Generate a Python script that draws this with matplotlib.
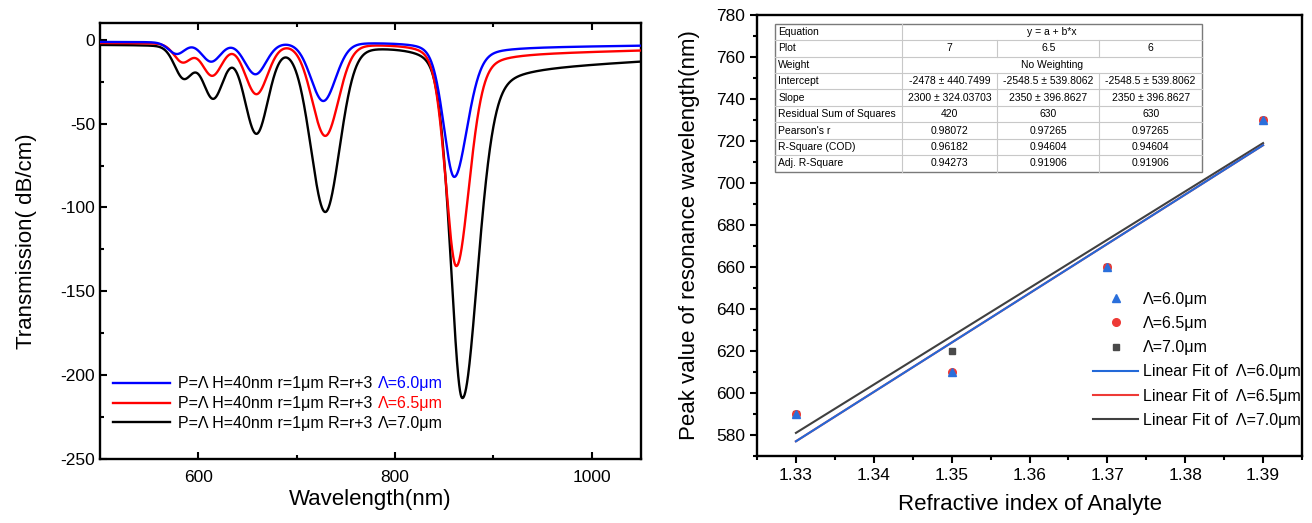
import numpy as np
import matplotlib
matplotlib.use("Agg")
import matplotlib.pyplot as plt
from matplotlib.lines import Line2D

plt.rcParams['font.family'] = ['Liberation Sans', 'DejaVu Sans', 'Noto Sans CJK SC']
plt.rcParams['axes.unicode_minus'] = False

# ---------------- Left panel data (transmission dips) ----------------
wl_min, wl_max = 500, 1050
series_names = ["Λ=6.0μm", "Λ=6.5μm", "Λ=7.0μm"]
series_colors = ["#0000ff", "#ff0000", "#000000"]
legend_prefix = "P=Λ H=40nm r=1μm R=r+3"

baseline = [-1.2, -1.8, -2.8]
dip_center_60 = [578, 613, 658, 727, 860]
dip_depth_60 = [7, 11.5, 19, 35, 79]
dip_hwhm_60 = [10, 11.5, 13, 15, 13]

dip_center_65 = [584, 614, 659, 729, 862]
dip_depth_65 = [11, 19, 30, 55, 130]
dip_hwhm_65 = [10.5, 12, 13.5, 16, 13]

dip_center_70 = [585, 615, 659, 729, 868]
dip_depth_70 = [19, 31, 52, 99, 204]
dip_hwhm_70 = [11, 12.5, 14, 17.5, 14]

big_dip_right_hwhm = [16, 16, 19]
small_lorentz_frac = 0.12
big_lorentz_frac = 0.3
tail_amp = [3.0, 6.0, 13.0]

# ---------------- Right panel data ----------------
ri = [1.33, 1.35, 1.37, 1.39]
peak_60 = [590, 610, 660, 730]
peak_65 = [590, 610, 660, 730]
peak_70 = [590, 620, 660, 730]

table_rows = ["Equation", "Plot", "Weight", "Intercept", "Slope",
              "Residual Sum of Squares", "Pearson's r", "R-Square (COD)", "Adj. R-Square"]
table_equation = "y = a + b*x"
table_plot = ["7", "6.5", "6"]
table_weight = "No Weighting"
table_intercept = ["-2478 ± 440.7499", "-2548.5 ± 539.8062", "-2548.5 ± 539.8062"]
table_slope = ["2300 ± 324.03703", "2350 ± 396.8627", "2350 ± 396.8627"]
table_rss = ["420", "630", "630"]
table_pearson = ["0.98072", "0.97265", "0.97265"]
table_r2 = ["0.96182", "0.94604", "0.94604"]
table_adj = ["0.94273", "0.91906", "0.91906"]

# ---------------- Figure ----------------
fig = plt.figure(figsize=(13.12, 5.23), dpi=100)
ax1 = fig.add_axes([100/1312, (523-459)/523, 541/1312, 436/523])
ax2 = fig.add_axes([757/1312, (523-456)/523, 545/1312, 441/523])

wl = np.linspace(wl_min, wl_max, 4000)

def profile(d, h, eta):
    g = np.exp(-np.log(2) * (d / h)**2)
    lz = 1.0 / (1.0 + (d / h)**2)
    return (1 - eta) * g + eta * lz

def spectrum(base, centers, depths, hwhm, right_hwhm, tail):
    t = np.full_like(wl, base)
    n = len(centers)
    for k, (c, dp, h) in enumerate(zip(centers, depths, hwhm)):
        d = wl - c
        if k == n - 1:
            hh = np.where(d > 0, right_hwhm, h)
            t -= dp * profile(d, hh, big_lorentz_frac)
        else:
            t -= dp * profile(d, h, small_lorentz_frac)
    cbig = centers[-1]
    step = 1.0 / (1.0 + np.exp(-(wl - cbig) / 7.0))
    t -= tail * step / (1 + ((wl - cbig) / 300.0)**2)
    return t

params = [(dip_center_60, dip_depth_60, dip_hwhm_60),
          (dip_center_65, dip_depth_65, dip_hwhm_65),
          (dip_center_70, dip_depth_70, dip_hwhm_70)]
handles = {}
for i in [2, 1, 0]:
    c, d, w = params[i]
    y = spectrum(baseline[i], c, d, w, big_dip_right_hwhm[i], tail_amp[i])
    ln, = ax1.plot(wl, y, color=series_colors[i], lw=1.7, zorder=3 + (2 - i))
    handles[i] = ln
ax1.set_xlim(wl_min, wl_max)
ax1.set_ylim(-250, 10)
ax1.set_xticks([600, 800, 1000])
ax1.set_xticks([700, 900], minor=True)
ax1.set_yticks([0, -50, -100, -150, -200, -250])
ax1.set_yticks([-25, -75, -125, -175, -225], minor=True)
ax1.tick_params(direction='in', which='both', top=True, right=False, labelsize=12.5,
                width=1.5, length=5)
ax1.tick_params(axis='x', pad=8)
ax1.tick_params(which='minor', length=3)
for s in ax1.spines.values():
    s.set_linewidth(1.7)
ax1.set_xlabel("Wavelength(nm)", fontsize=16, labelpad=3)
ax1.set_ylabel("Transmission( dB/cm)", fontsize=16, labelpad=17)

leg1 = ax1.legend([handles[0], handles[1], handles[2]], [legend_prefix] * 3, loc='lower left',
                  bbox_to_anchor=(0.0, 0.035), frameon=False, fontsize=11.5,
                  handlelength=3.6, handletextpad=0.5, labelspacing=0.3, borderpad=0.3)

# ---------------- Right panel ----------------
fit_colors = ["#2369d8", "#ee3a36", "#404040"]
mk_colors = ["#2a6fdb", "#ee3a36", "#4a4a4a"]
xs = np.array(ri)
xfit = np.linspace(ri[0], ri[-1], 50)
fits = []
for p in [peak_60, peak_65, peak_70]:
    b, a = np.polyfit(xs, np.array(p), 1)
    fits.append(a + b * xfit)

h_fit70, = ax2.plot(xfit, fits[2], color=fit_colors[2], lw=1.5, zorder=2)
h_fit65, = ax2.plot(xfit, fits[1], color=fit_colors[1], lw=1.5, zorder=2)
h_fit60, = ax2.plot(xfit, fits[0], color=fit_colors[0], lw=1.5, zorder=3)
h70, = ax2.plot(ri, peak_70, 's', color=mk_colors[2], ms=5, ls='none', zorder=4)
h65, = ax2.plot(ri, peak_65, 'o', color=mk_colors[1], ms=5.5, ls='none', zorder=4)
h60, = ax2.plot(ri, peak_60, '^', color=mk_colors[0], ms=6, ls='none', zorder=5)

ax2.set_xlim(1.325, 1.395)
ax2.set_ylim(570, 780)
xt = [1.33, 1.34, 1.35, 1.36, 1.37, 1.38, 1.39]
ax2.set_xticks(xt)
ax2.set_xticklabels(["1.33", "1.34", "1.35", "1.36", "1.37", "1.38", "1.39"])
ax2.set_xticks(np.arange(1.325, 1.3951, 0.005), minor=True)
ax2.set_yticks(np.arange(580, 781, 20))
ax2.set_yticks(np.arange(570, 781, 10), minor=True)
ax2.tick_params(direction='out', which='both', labelsize=12.5, width=1.5, length=5)
ax2.tick_params(which='minor', length=3)
for s in ax2.spines.values():
    s.set_linewidth(1.7)
ax2.set_xlabel("Refractive index of Analyte", fontsize=16, labelpad=8)
ax2.set_ylabel("Peak value of resonance wavelength(nm)", fontsize=16, labelpad=12)

ax2.legend([h60, h65, h70, h_fit60, h_fit65, h_fit70],
           ["Λ=6.0μm", "Λ=6.5μm", "Λ=7.0μm",
            "Linear Fit of  Λ=6.0μm", "Linear Fit of  Λ=6.5μm", "Linear Fit of  Λ=7.0μm"],
           loc='lower right', bbox_to_anchor=(1.0, 0.06), frameon=False, fontsize=11.5,
           handlelength=2.8, handletextpad=0.3, labelspacing=0.58, borderpad=0.1,
           borderaxespad=0.0)

# ---------------- Fit table ----------------
tl, tr, tt, tb = 0.033, 0.8165, 0.98, 0.645
col_edges = [tl, 0.2665, 0.4407, 0.628, tr]
nrows = len(table_rows)
rh = (tt - tb) / nrows
trf = ax2.transAxes
ax2.add_patch(plt.Rectangle((tl, tb), tr - tl, tt - tb, transform=trf, facecolor='white',
                            edgecolor='#7a7a7a', lw=1.0, zorder=6))
for r in range(1, nrows):
    y = tt - r * rh
    ax2.add_line(Line2D([tl, tr], [y, y], transform=trf, color='#c8c8c8', lw=0.8, zorder=7))
ax2.add_line(Line2D([col_edges[1]] * 2, [tb, tt], transform=trf, color='#c8c8c8', lw=0.8, zorder=7))
merged_rows = [0, 2]
for r in range(nrows):
    if r in merged_rows:
        continue
    for ce in col_edges[2:4]:
        ax2.add_line(Line2D([ce, ce], [tt - (r + 1) * rh, tt - r * rh], transform=trf,
                            color='#c8c8c8', lw=0.8, zorder=7))
row_vals = [None, table_plot, None, table_intercept, table_slope, table_rss,
            table_pearson, table_r2, table_adj]
fs_t = 7.5
for r, name in enumerate(table_rows):
    yc = tt - (r + 0.5) * rh
    ax2.text(tl + 0.006, yc, name, transform=trf, fontsize=fs_t, va='center', ha='left', zorder=8)
    if r == 0:
        ax2.text((col_edges[1] + tr) / 2, yc, table_equation, transform=trf, fontsize=fs_t,
                 va='center', ha='center', zorder=8)
    elif r == 2:
        ax2.text((col_edges[1] + tr) / 2, yc, table_weight, transform=trf, fontsize=fs_t,
                 va='center', ha='center', zorder=8)
    else:
        for j, v in enumerate(row_vals[r]):
            ax2.text((col_edges[j + 1] + col_edges[j + 2]) / 2, yc, v, transform=trf,
                     fontsize=fs_t, va='center', ha='center', zorder=8)

# coloured Λ part of the left legend labels
fig.canvas.draw()
inv = fig.transFigure.inverted()
for txt, name, col in zip(leg1.get_texts(), series_names, series_colors):
    bb = txt.get_window_extent()
    x0, y0 = inv.transform((bb.x1 + 5, bb.y0))
    fig.text(x0, y0, name, color=col, fontsize=11.5, ha='left', va='bottom')

fig.savefig("out.png", dpi=100)
